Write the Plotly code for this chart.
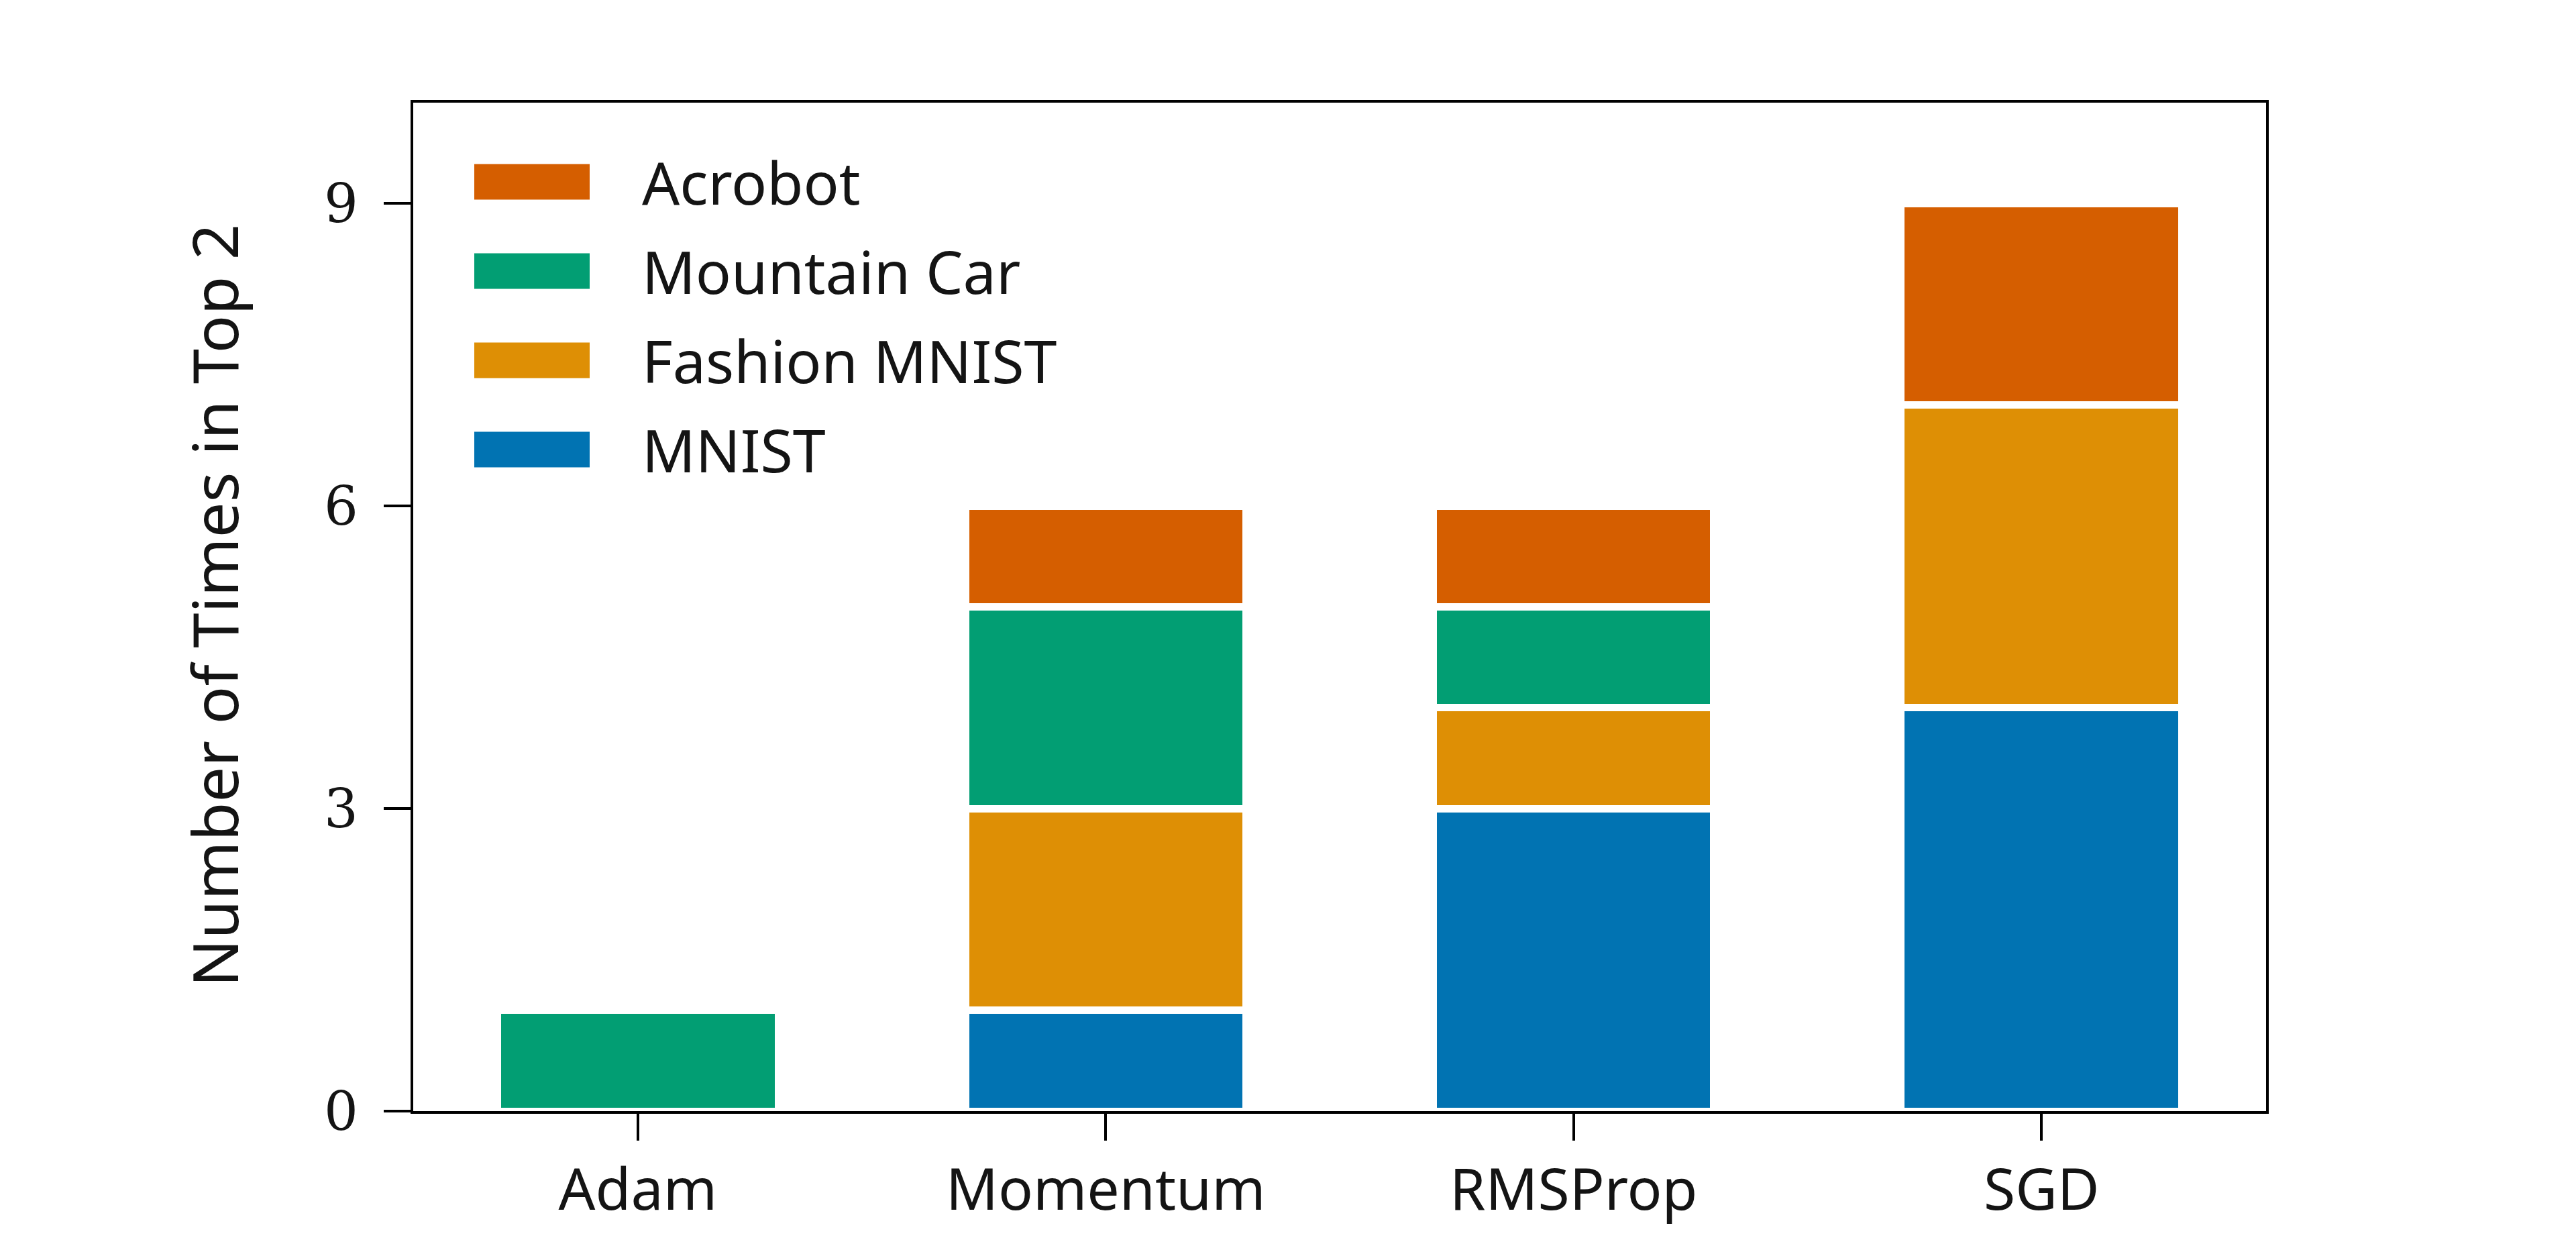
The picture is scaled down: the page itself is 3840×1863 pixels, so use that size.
import plotly.graph_objects as go

optimizers = ["Adam", "Momentum", "RMSProp", "SGD"]
series_names = ["MNIST", "Fashion MNIST", "Mountain Car", "Acrobot"]
mnist = [0, 1, 3, 4]
fashion_mnist = [0, 2, 1, 3]
mountain_car = [1, 2, 1, 0]
acrobot = [0, 1, 1, 2]
y_ticks = [0, 3, 6, 9]

colors = {
    "MNIST": "#0173b2",
    "Fashion MNIST": "#de8f05",
    "Mountain Car": "#029e73",
    "Acrobot": "#d55e00",
}
values = {
    "MNIST": mnist,
    "Fashion MNIST": fashion_mnist,
    "Mountain Car": mountain_car,
    "Acrobot": acrobot,
}

SANS = "Noto Sans"
SERIF = "DejaVu Serif"
TXT = "#141414"

L, R, T, B = 608, 470, 145, 215
W, H = 3840, 1863
PW, PH = W - L - R, H - T - B

def dx(px):
    return (px - L) / PW

def dy(py):
    return (H - B - py) / PH

fig = go.Figure()
for name in series_names:
    fig.add_trace(go.Bar(
        x=optimizers, y=values[name], name=name, width=0.6,
        marker=dict(color=colors[name], line=dict(color="white", width=11)),
        showlegend=False,
    ))

# custom legend (top to bottom: Acrobot, Mountain Car, Fashion MNIST, MNIST)
legend_order = ["Acrobot", "Mountain Car", "Fashion MNIST", "MNIST"]
legend_py = [263, 396, 529, 662]
half = 26.5 / PH
for name, py in zip(legend_order, legend_py):
    yc = dy(py)
    fig.add_shape(type="rect", xref="x domain", yref="y domain",
                  x0=dx(699), x1=dx(871), y0=yc - half, y1=yc + half,
                  fillcolor=colors[name], line=dict(width=0))
    fig.add_annotation(xref="x domain", yref="y domain", x=dx(947), y=yc,
                       text=name, showarrow=False, xanchor="left", yanchor="middle",
                       font=dict(family=SANS, size=88, color=TXT))

# y-axis title
fig.add_annotation(xref="x domain", yref="y domain", x=dx(311), y=dy(895),
                   text="Number of Times in Top 2", showarrow=False, textangle=-90,
                   xanchor="center", yanchor="middle",
                   font=dict(family=SANS, size=94, color=TXT))

fig.update_layout(
    barmode="stack",
    width=W, height=H,
    margin=dict(l=L, r=R, t=T, b=B),
    plot_bgcolor="white", paper_bgcolor="white",
    showlegend=False,
)
fig.update_xaxes(
    range=[-0.48, 3.48], showline=True, linecolor="black", linewidth=4, mirror=True,
    ticks="outside", ticklen=40, tickwidth=4, tickcolor="black",
    tickfont=dict(family=SANS, size=86, color=TXT), showgrid=False, zeroline=False,
)
fig.update_yaxes(
    range=[0, 10], tickvals=y_ticks, ticktext=[str(v) for v in y_ticks],
    showline=True, linecolor="black", linewidth=4, mirror=True,
    ticks="outside", ticklen=40, tickwidth=4, tickcolor="black",
    ticklabelstandoff=22,
    tickfont=dict(family=SERIF, size=80, color=TXT), showgrid=False, zeroline=False,
)

fig.write_html("out.html")
